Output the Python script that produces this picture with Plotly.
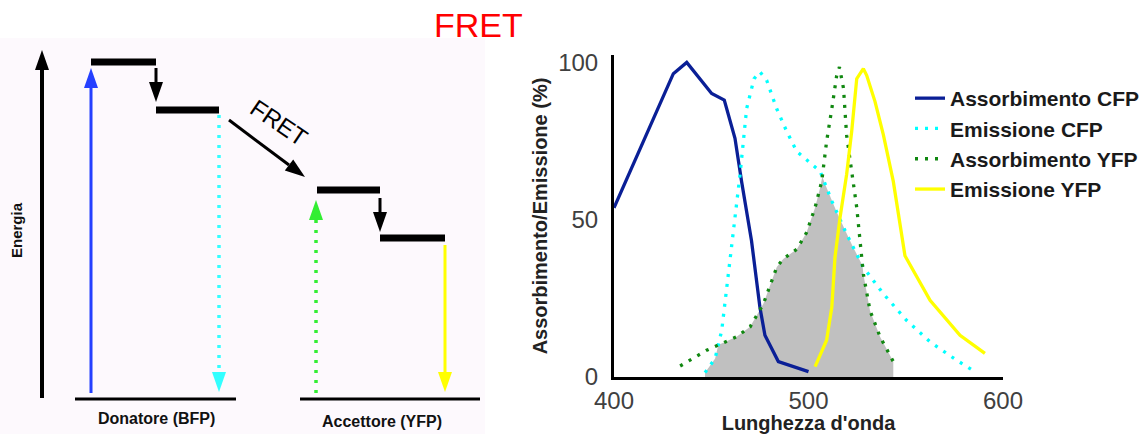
import numpy as np
import plotly.graph_objects as go

W, H = 1147, 434

# ---------------- Spectra (wavelength nm, %) ----------------
abs_cfp_x = [400, 430.5, 437.4, 450.2, 456.7, 462.2, 465.6, 470.7, 475.0, 477.6, 484.5, 500.0]
abs_cfp_y = [53.9, 96.6, 100.2, 90.3, 88.2, 76.0, 62.3, 43.4, 22.3, 13.3, 4.9, 1.7]

em_cfp_x = [446.8, 452, 455.4, 458, 461.4, 464.8, 468.2, 472, 475, 478.5, 483.6, 488.8,
            494, 500, 506, 512, 519.6, 528.2, 538.5, 550.5, 562.5, 576, 585.6]
em_cfp_y = [1.4, 5.9, 14.9, 28.6, 47.6, 64.5, 85.5, 95, 97.2, 94.5, 85.5, 78.2,
            71.8, 68.7, 65.5, 56, 45.5, 34.9, 26.5, 18, 11.2, 5.4, 1.7]

abs_yfp_x = [434, 447.6, 463, 470, 476.8, 483.7, 487, 494, 499, 503.4, 506.8, 509.3,
             512, 514.5, 515.9, 518, 519.6, 522.2, 524.8, 526.5, 528.2, 531.6, 536.8, 543.6]
abs_yfp_y = [3.5, 8.5, 12.8, 16, 23.3, 35, 37.6, 40.7, 46, 54, 62.3, 75,
             85.5, 96, 98.7, 91.9, 77, 64.5, 54, 43.4, 32.8, 21.2, 12.8, 4.9]

em_yfp_x = [503.4, 509.3, 512, 513.6, 516.2, 519.6, 522.2, 524.8, 528.2, 529.9, 534.2,
            538.5, 543.6, 549.6, 562.5, 577.9, 590.7]
em_yfp_y = [3.3, 11.7, 22.3, 38, 50.7, 64.5, 78.2, 95, 98.2, 96.1, 87.7,
            77.1, 62.3, 38.6, 24.4, 13.3, 7.5]

series_names = ["Assorbimento CFP", "Emissione CFP", "Assorbimento YFP", "Emissione YFP"]
x_ticks = [400, 500, 600]
y_ticks = [0, 50, 100]

# ---------------- Energy diagram (canvas coordinates) ----------------
level_x0 = [91, 156, 317, 380]
level_x1 = [156, 219, 380, 445]
level_y = [62, 110, 190, 238]
ground_x0 = [75, 300]
ground_x1 = [236, 480]
ground_y = [399, 399]
ground_labels = ["Donatore (BFP)", "Accettore (YFP)"]
ground_label_x = [156, 382]
ground_label_y = [418, 421]

# arrows: start x, start y, tip x, tip y
arrow_x0 = [42, 91, 156, 219, 229, 316, 380, 445]
arrow_y0 = [398, 393, 68, 115, 120, 393, 198, 245]
arrow_x1 = [42, 91, 156, 219, 305, 316, 380, 445]
arrow_y1 = [50, 68, 102, 392, 177, 200, 232, 392]
arrow_col = ["black", "#2540ff", "black", "#33ffff", "black", "#33ee33", "black", "#ffff00"]
arrow_dash = ["solid", "solid", "solid", "3px,7px", "solid", "3px,7px", "solid", "solid"]
arrow_w = [4, 3, 3, 3.5, 3, 3.5, 3, 3]

fig = go.Figure()

# ---- overlap (grey) = min of CFP emission and YFP absorption ----
xa, ya = np.array(em_cfp_x), np.array(em_cfp_y)
xb, yb = np.array(abs_yfp_x), np.array(abs_yfp_y)
lo, hi = max(xa.min(), xb.min()), min(xa.max(), xb.max())
grid = np.unique(np.concatenate([xa, xb]))
grid = grid[(grid >= lo) & (grid <= hi)]
pts_x, pts_y = [], []
for i in range(len(grid)):
    g = grid[i]
    fa, fb = np.interp(g, xa, ya), np.interp(g, xb, yb)
    if i > 0:
        g0 = grid[i - 1]
        d0 = np.interp(g0, xa, ya) - np.interp(g0, xb, yb)
        d1 = fa - fb
        if d0 * d1 < 0:
            gc = g0 + (g - g0) * d0 / (d0 - d1)
            pts_x.append(gc)
            pts_y.append(np.interp(gc, xa, ya))
    pts_x.append(g)
    pts_y.append(min(fa, fb))
fill_x = [pts_x[0]] + pts_x + [pts_x[-1]]
fill_y = [0] + pts_y + [0]
fig.add_trace(go.Scatter(x=fill_x, y=fill_y, fill="toself", fillcolor="#c0c0c0",
                         line=dict(width=0), mode="lines", showlegend=False,
                         hoverinfo="skip", xaxis="x2", yaxis="y2"))

styles = [
    dict(color="#0a1f96", width=3.3, dash="solid"),
    dict(color="#00ffff", width=3.3, dash="3px,7px"),
    dict(color="#118811", width=3.3, dash="3px,7px"),
    dict(color="#ffff00", width=3.3, dash="solid"),
]
data_xy = [(abs_cfp_x, abs_cfp_y), (em_cfp_x, em_cfp_y), (abs_yfp_x, abs_yfp_y), (em_yfp_x, em_yfp_y)]
for name, (sx, sy), st in zip(series_names, data_xy, styles):
    fig.add_trace(go.Scatter(x=sx, y=sy, mode="lines", name=name, line=st,
                             xaxis="x2", yaxis="y2"))

# ---------------- diagram shapes ----------------
shapes = [dict(type="rect", xref="x", yref="y", x0=0, x1=485, y0=38, y1=H,
               fillcolor="#fdf9fd", line=dict(width=0), layer="below")]
for x0, x1, y in zip(level_x0, level_x1, level_y):
    shapes.append(dict(type="line", xref="x", yref="y", x0=x0, x1=x1, y0=y, y1=y,
                       line=dict(color="black", width=7)))
for x0, x1, y in zip(ground_x0, ground_x1, ground_y):
    shapes.append(dict(type="line", xref="x", yref="y", x0=x0, x1=x1, y0=y, y1=y,
                       line=dict(color="black", width=3)))

HEAD_L, HEAD_W = 20, 14
for x0, y0, x1, y1, c, d, w in zip(arrow_x0, arrow_y0, arrow_x1, arrow_y1, arrow_col, arrow_dash, arrow_w):
    dx, dy = x1 - x0, y1 - y0
    L = (dx ** 2 + dy ** 2) ** 0.5
    ux, uy = dx / L, dy / L
    bx, by = x1 - HEAD_L * ux, y1 - HEAD_L * uy
    px, py = -uy, ux
    shapes.append(dict(type="line", xref="x", yref="y", x0=x0, y0=y0, x1=bx, y1=by,
                       line=dict(color=c, width=w, dash=d)))
    path = "M {:.2f} {:.2f} L {:.2f} {:.2f} L {:.2f} {:.2f} Z".format(
        x1, y1, bx + px * HEAD_W / 2, by + py * HEAD_W / 2, bx - px * HEAD_W / 2, by - py * HEAD_W / 2)
    shapes.append(dict(type="path", xref="x", yref="y", path=path, fillcolor=c,
                       line=dict(width=0)))

annotations = [
    dict(text="FRET", x=478, y=25, xref="x", yref="y", showarrow=False,
         font=dict(family="Liberation Sans", size=34, color="#ff0000")),
    dict(text="FRET", x=279, y=122, xref="x", yref="y", showarrow=False, textangle=34,
         font=dict(family="Liberation Sans", size=24, color="black")),
    dict(text="<b>Energia</b>", x=16, y=230, xref="x", yref="y", showarrow=False, textangle=-90,
         font=dict(family="Liberation Sans", size=15, color="#111")),
]
for t, x, y in zip(ground_labels, ground_label_x, ground_label_y):
    annotations.append(dict(text="<b>" + t + "</b>", x=x, y=y, xref="x", yref="y", showarrow=False,
                            font=dict(family="Liberation Sans", size=16, color="#111")))

px0, px1 = 614, 1003
py_bottom, py_top = 377, 55
y_top_val = 100 * (py_bottom - py_top) / (py_bottom - 63)

fig.update_layout(
    template="none",
    width=W, height=H, autosize=False,
    margin=dict(l=0, r=0, t=0, b=0, pad=0),
    paper_bgcolor="white", plot_bgcolor="rgba(0,0,0,0)",
    shapes=shapes, annotations=annotations,
    xaxis=dict(domain=[0, 1], range=[0, W], visible=False, fixedrange=True, automargin=False),
    yaxis=dict(domain=[0, 1], range=[H, 0], visible=False, fixedrange=True, automargin=False),
    xaxis2=dict(domain=[px0 / W, px1 / W], range=[400, 600], anchor="y2", automargin=False,
                tickvals=x_ticks, ticks="", showline=True, linecolor="black", linewidth=3,
                showgrid=False, zeroline=False,
                tickfont=dict(family="Liberation Sans", size=24, color="#404040"),
                title=dict(text="<b>Lunghezza d'onda</b>", standoff=4,
                           font=dict(family="Liberation Sans", size=20, color="#222"))),
    yaxis2=dict(domain=[1 - py_bottom / H, 1 - py_top / H], range=[0, y_top_val], anchor="x2",
                automargin=False,
                tickvals=y_ticks, ticks="", showline=True, linecolor="black", linewidth=3,
                showgrid=False, zeroline=False, ticklabelstandoff=8,
                tickfont=dict(family="Liberation Sans", size=24, color="#404040"),
                title=dict(text="<b>Assorbimento/Emissione (%)</b>", standoff=6,
                           font=dict(family="Liberation Sans", size=20, color="#222"))),
    legend=dict(x=910 / W, y=1 - 78 / H, xanchor="left", yanchor="top",
                bgcolor="rgba(0,0,0,0)", borderwidth=0, tracegroupgap=0,
                font=dict(family="Liberation Sans", size=21, color="#1a1a1a", weight="bold")),
    showlegend=True,
)

fig.write_html("out.html")
